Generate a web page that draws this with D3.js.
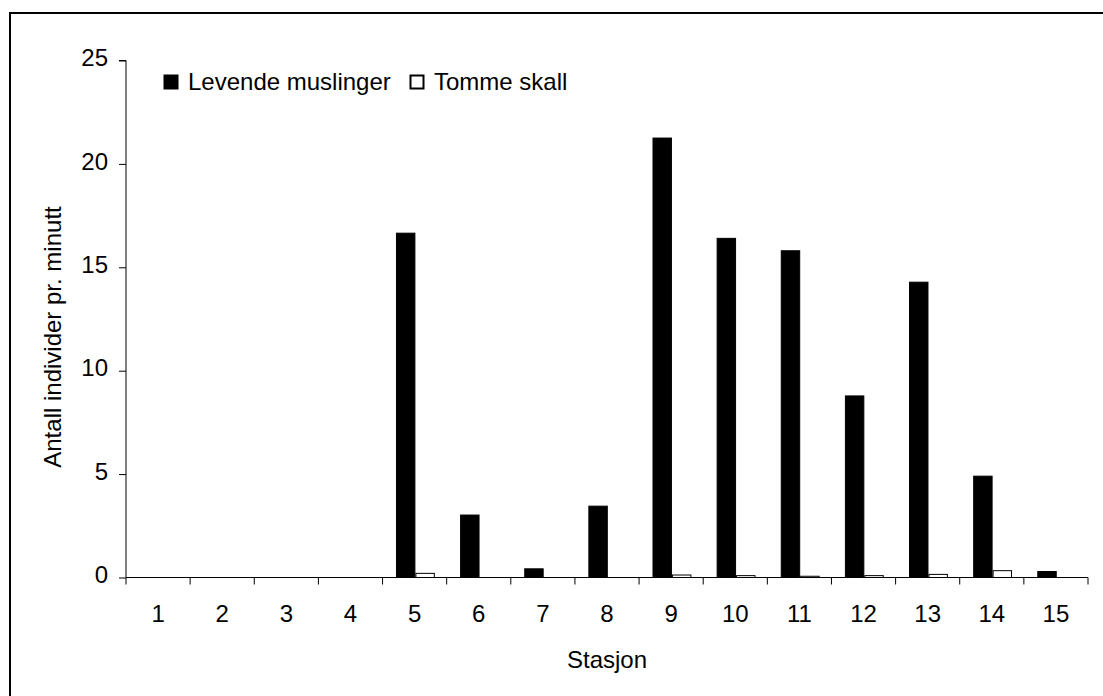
<!DOCTYPE html>
<html>
<head>
<meta charset="utf-8">
<script src="https://cdn.jsdelivr.net/npm/d3@7"></script>
<style>
  html, body { margin: 0; padding: 0; background: #fff; }
  svg { display: block; font-family: "Liberation Sans", Arial, sans-serif; }
</style>
</head>
<body>
<svg id="chart" width="1103" height="696"></svg>
<script>
const stations = ["1","2","3","4","5","6","7","8","9","10","11","12","13","14","15"];
const seriesNames = ["Levende muslinger", "Tomme skall"];
const levende = [0, 0, 0, 0, 16.65, 3.02, 0.42, 3.45, 21.25, 16.4, 15.8, 8.78, 14.28, 4.9, 0.29];
const tomme   = [0, 0, 0, 0, 0.2, 0, 0, 0, 0.12, 0.09, 0.06, 0.09, 0.15, 0.33, 0];
const yTicks = [0, 5, 10, 15, 20, 25];
const xTitle = "Stasjon";
const yTitle = "Antall individer pr. minutt";

const FS = 24;
const svg = d3.select("#chart");
const pLeft = 126, pRight = 1088, pTop = 60.5, pBottom = 577.5;

// outer frame
svg.append("rect").attr("x", 10).attr("y", 13).attr("width", 1200).attr("height", 800)
  .attr("fill", "none").attr("stroke", "#000").attr("stroke-width", 2);

const x0 = d3.scaleBand().domain(stations).range([pLeft, pRight]).padding(0);
const x1 = d3.scaleBand().domain(seriesNames).range([0, x0.bandwidth()])
  .paddingInner(0).paddingOuter(0.65);
const y = d3.scaleLinear().domain([0, 25]).range([pBottom, pTop]);

const data = stations.map((s, i) => ({ station: s, values: [levende[i], tomme[i]] }));

const fills = ["#000", "#fff"];
const groups = svg.append("g").selectAll("g").data(data).join("g")
  .attr("transform", d => `translate(${x0(d.station) + 0.8},0)`);
groups.selectAll("rect").data(d => d.values.map((v, k) => ({ k, v })).filter(e => e.v > 0)).join("rect")
  .attr("x", d => x1(seriesNames[d.k]) + 0.5)
  .attr("y", d => y(d.v))
  .attr("width", x1.bandwidth() - 1)
  .attr("height", d => y(0) - y(d.v))
  .attr("fill", d => fills[d.k])
  .attr("stroke", "#000").attr("stroke-width", 1);

// y axis
const yAxis = d3.axisLeft(y).tickValues(yTicks).tickSize(7).tickPadding(11).tickFormat(d3.format("d"));
const gy = svg.append("g").attr("transform", `translate(${pLeft},0)`).call(yAxis);
gy.select(".domain").attr("stroke", "#000").attr("d", `M-7,${pTop}H0V${pBottom}`);
gy.selectAll(".tick line").attr("stroke", "#000");
gy.selectAll(".tick text").attr("font-size", FS).attr("fill", "#000")
  .attr("font-family", "Liberation Sans, Arial, sans-serif").attr("dy", "0.22em");

// x axis
const gx = svg.append("g").attr("transform", `translate(0,${pBottom})`);
gx.append("line").attr("x1", pLeft).attr("x2", pRight).attr("stroke", "#000");
const boundaries = stations.map(s => x0(s)).concat([pRight]);
gx.selectAll("line.tk").data(boundaries).join("line").attr("class", "tk")
  .attr("x1", d => d).attr("x2", d => d).attr("y1", 0).attr("y2", 7).attr("stroke", "#000");
gx.selectAll("text").data(stations).join("text")
  .attr("x", d => x0(d) + x0.bandwidth() / 2).attr("y", 44)
  .attr("text-anchor", "middle").attr("font-size", FS).attr("fill", "#000")
  .text(d => d);

// titles
svg.append("text").attr("x", 607).attr("y", 668).attr("text-anchor", "middle")
  .attr("font-size", FS).attr("fill", "#000").text(xTitle);
svg.append("text").attr("transform", "translate(61,337) rotate(-90)").attr("text-anchor", "middle")
  .attr("font-size", FS).attr("fill", "#000").text(yTitle);

// legend
const legendX = [164, 410];
const lg = svg.append("g").selectAll("g").data(seriesNames).join("g")
  .attr("transform", (d, i) => `translate(${legendX[i]},75)`);
lg.append("rect").attr("x", 0.5).attr("y", 0.5).attr("width", 13).attr("height", 13)
  .attr("fill", (d, i) => fills[i]).attr("stroke", "#000").attr("stroke-width", 2);
lg.append("text").attr("x", 24).attr("y", 15).attr("font-size", FS).attr("fill", "#000")
  .text(d => d);
</script>
</body>
</html>
